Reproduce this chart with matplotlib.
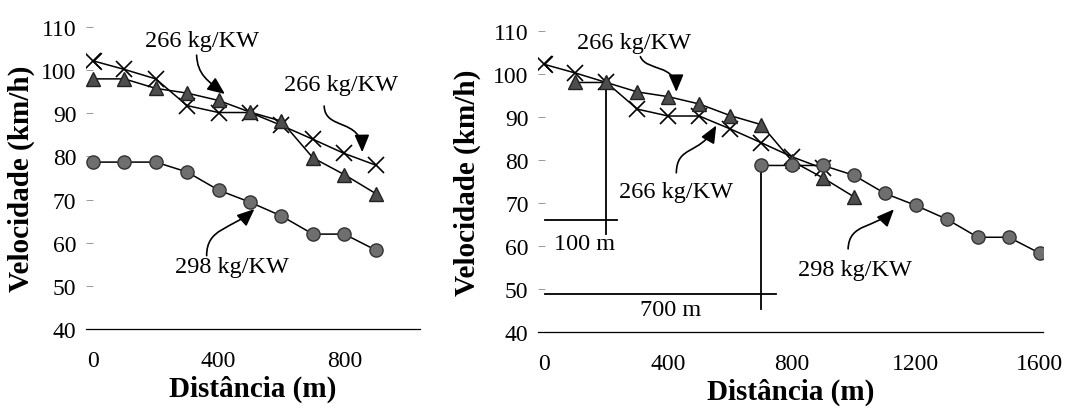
import numpy as np
import matplotlib
matplotlib.use("Agg")
import matplotlib.pyplot as plt
from matplotlib.path import Path
from matplotlib.patches import FancyArrowPatch

plt.rcParams['font.family'] = ['Liberation Serif', 'DejaVu Serif']

# distancias percorridas (m) e velocidades (km/h)
dist = [0, 100, 200, 300, 400, 500, 600, 700, 800, 900]
vel_tri = [98, 98, 95.8, 94.7, 93, 90.3, 88.2, 79.7, 75.8, 71.4]
vel_cruz = [102.2, 100.2, 98, 91.8, 90.2, 90.2, 87.2, 84, 80.7, 78]
vel_circ = [78.7, 78.7, 78.7, 76.4, 72.2, 69.4, 66.2, 62, 62, 58.3]

# deslocamentos no segundo grafico
desloc_tri = 100
desloc_circ = 700

yticks = [40, 50, 60, 70, 80, 90, 100, 110]

# marcador aberto "<" para o primeiro ponto
seta = Path([(1, 1), (0, 0), (1, -1)], [Path.MOVETO, Path.LINETO, Path.LINETO])


def desenha_series(ax, xt, xc, xcirc):
    ax.plot(xc, vel_cruz, color='black', lw=1.1, marker='x', ms=11, mew=1.2, zorder=3)
    ax.plot(xc[:1], vel_cruz[:1], ls='none', marker=seta, ms=12, mew=1.2,
            mfc='none', mec='black', zorder=4)
    ax.plot(xt, vel_tri, color='black', lw=1.1, marker='^', ms=10.5,
            mfc='#4d4d4d', mec='#222222', zorder=3)
    ax.plot(xcirc, vel_circ, color='black', lw=1.1, marker='o', ms=9.5,
            mfc='#6f6f6f', mec='#333333', zorder=3)


def estilo(ax, xticks, xlim, ypad):
    ax.set_ylim(40, 110)
    ax.set_xlim(*xlim)
    ax.set_yticks(yticks)
    ax.set_xticks(xticks)
    for s in ['top', 'right', 'left']:
        ax.spines[s].set_visible(False)
    ax.spines['bottom'].set_linewidth(0.9)
    ax.tick_params(axis='y', direction='in', length=5, width=0.7, color='#999999',
                   pad=7, labelsize=17)
    ax.tick_params(axis='x', length=0, pad=15, labelsize=17)
    ax.set_xlabel('Distância (m)', fontsize=21, fontweight='bold', labelpad=3)
    ax.set_ylabel('Velocidade (km/h)', fontsize=21, fontweight='bold', labelpad=ypad)


def seta_curva(ax, pontos):
    # curva de Bezier cubica: inicio, dois pontos de controle, ponta
    caminho = Path(pontos, [Path.MOVETO, Path.CURVE4, Path.CURVE4, Path.CURVE4])
    p = FancyArrowPatch(path=caminho, arrowstyle='-|>,head_length=0.7,head_width=0.3',
                        mutation_scale=15, color='black', lw=1.2, zorder=5,
                        transform=ax.transData)
    ax.add_patch(p)


fig = plt.figure(figsize=(10.68, 4.14), dpi=100)

# grafico da esquerda
ax1 = fig.add_axes([0.0805, 0.203, 0.3125, 0.729])
desenha_series(ax1, dist, dist, dist)
estilo(ax1, [0, 400, 800], (-22, 1040), 4)
ax1.text(346, 106.8, '266 kg/KW', fontsize=17.5, ha='center', va='center')
seta_curva(ax1, [(330, 103.5), (333, 99), (365, 97.5), (420, 94.5)])
ax1.text(790, 96.8, '266 kg/KW', fontsize=17.5, ha='center', va='center')
seta_curva(ax1, [(736, 91.7), (738, 86), (855, 89), (857, 81)])
ax1.text(441, 54.4, '298 kg/KW', fontsize=17.5, ha='center', va='center')
seta_curva(ax1, [(362, 57), (362, 63.5), (440, 63), (514, 67.8)])

# grafico da direita
ax2 = fig.add_axes([0.504, 0.196, 0.473, 0.727])
dist_tri = [d + desloc_tri for d in dist]
dist_circ = [d + desloc_circ for d in dist]
desenha_series(ax2, dist_tri, dist, dist_circ)
estilo(ax2, [0, 400, 800, 1200, 1600], (-20, 1612), 9)
ax2.text(290, 107.4, '266 kg/KW', fontsize=17.5, ha='center', va='center')
seta_curva(ax2, [(310, 104), (330, 100.5), (425, 102.5), (426, 95.8)])
ax2.text(426, 72.6, '266 kg/KW', fontsize=17.5, ha='center', va='center')
seta_curva(ax2, [(426, 77), (428, 83.5), (500, 81), (555, 88)])
ax2.text(1003, 54.6, '298 kg/KW', fontsize=17.5, ha='center', va='center')
seta_curva(ax2, [(981, 59.3), (984, 65.5), (1070, 64), (1129, 68.5)])

# marcas das distancias de partida
ax2.plot([200, 200], [98, 62.8], color='black', lw=1.3, zorder=2)
ax2.plot([2, 235], [66, 66], color='black', lw=1.3, zorder=2)
ax2.text(129, 60.5, '100 m', fontsize=17.5, ha='center', va='center')
ax2.plot([desloc_circ, desloc_circ], [78.7, 45.3], color='black', lw=1.3, zorder=2)
ax2.plot([2, 748], [48.7, 48.7], color='black', lw=1.3, zorder=2)
ax2.text(406, 45.3, '700 m', fontsize=17.5, ha='center', va='center')

fig.savefig('out.png', dpi=100)
